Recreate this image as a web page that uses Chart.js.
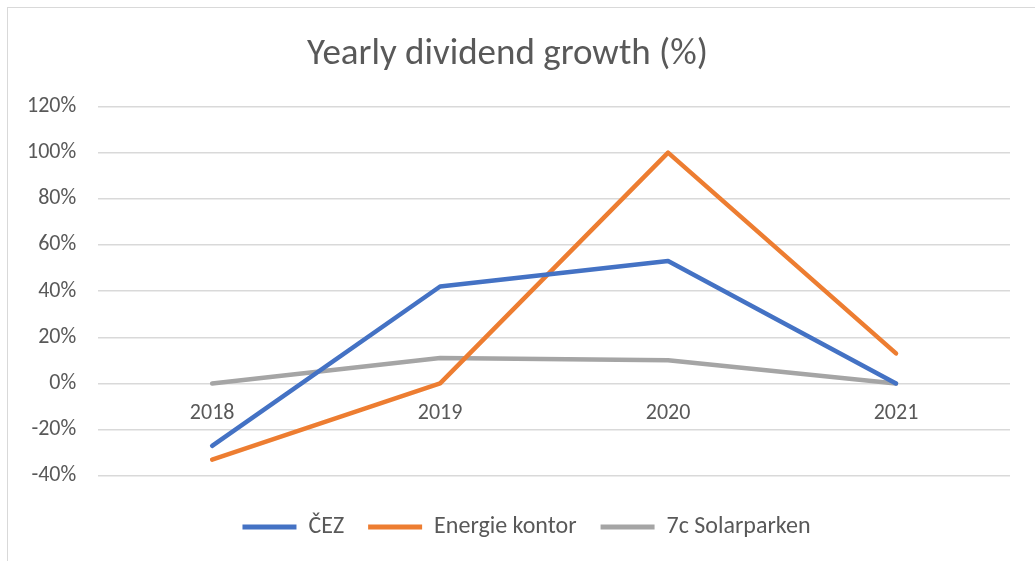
<!DOCTYPE html>
<html>
<head>
<meta charset="utf-8">
<script src="https://cdn.jsdelivr.net/npm/chart.js@4.4.1/dist/chart.umd.min.js"></script>
<style>
  html, body { margin: 0; padding: 0; background: #fff; }
  #wrap { position: relative; width: 1035px; height: 561px; overflow: hidden; }
  #frame { position: absolute; left: 7px; top: 7px; width: 1100px; height: 700px; border: 1px solid #d9d9d9; box-sizing: border-box; }
  #c { position: absolute; left: 0; top: 0; }
</style>
</head>
<body>
<div id="wrap">
  <div id="frame"></div>
  <canvas id="c" width="1035" height="561"></canvas>
</div>
<script>
const categories = ['2018', '2019', '2020', '2021'];
const cezValues = [-27, 42, 53, 0];
const energieKontorValues = [-33, 0, 100, 13];
const solarparkenValues = [0, 11, 10, 0];
const seriesNames = ['ČEZ', 'Energie kontor', '7c Solarparken'];
const yTickValues = [-40, -20, 0, 20, 40, 60, 80, 100, 120];

const FONT = "Carlito, Lato, 'Open Sans', sans-serif";
const TEXT = '#595959';
const GRID = '#d9d9d9';

function ds(label, data, color) {
  return {
    label, data,
    borderColor: color,
    backgroundColor: color,
    borderWidth: 4.5,
    borderCapStyle: 'round',
    borderJoinStyle: 'round',
    pointRadius: 0,
    pointHoverRadius: 0,
    tension: 0,
    fill: false
  };
}

const shiftLegend = {
  id: 'shiftLegend',
  afterLayout(chart) {
    const lg = chart.legend;
    if (lg) { lg.left += 19; lg.right += 19; }
  }
};

new Chart(document.getElementById('c'), {
  type: 'line',
  data: {
    labels: categories,
    datasets: [
      ds(seriesNames[0], cezValues, '#4472C4'),
      ds(seriesNames[1], energieKontorValues, '#ED7D31'),
      ds(seriesNames[2], solarparkenValues, '#A5A5A5')
    ]
  },
  plugins: [shiftLegend],
  options: {
    responsive: false,
    animation: false,
    events: [],
    layout: { padding: { left: 5, right: 25, top: 0, bottom: 12 } },
    plugins: {
      title: {
        display: true,
        text: 'Yearly dividend growth (%)',
        color: TEXT,
        font: { family: FONT, size: 37, weight: '300' },
        padding: { top: 33, bottom: 29 }
      },
      legend: {
        position: 'bottom',
        title: { display: true, text: ' ', font: { size: 1 }, padding: { top: 7, bottom: 7 } },
        labels: {
          color: TEXT,
          font: { family: FONT, size: 24 },
          boxWidth: 54,
          boxHeight: 5,
          padding: 24,
          generateLabels(chart) {
            return chart.data.datasets.map((d, i) => ({
              text: d.label,
              fillStyle: d.borderColor,
              strokeStyle: d.borderColor,
              lineWidth: 0,
              fontColor: TEXT,
              datasetIndex: i,
              hidden: false
            }));
          }
        }
      },
      tooltip: { enabled: false }
    },
    scales: {
      x: {
        type: 'category',
        offset: true,
        position: { y: 0 },
        grid: { display: false, drawTicks: false },
        border: { display: false },
        ticks: { color: TEXT, font: { family: FONT, size: 22 }, padding: 17, maxRotation: 0 }
      },
      y: {
        min: -40,
        max: 120,
        afterBuildTicks(scale) { scale.ticks = yTickValues.map(v => ({ value: v })); },
        grid: { color: GRID, lineWidth: 1.5, drawTicks: false },
        border: { display: false },
        ticks: {
          color: TEXT,
          font: { family: FONT, size: 22 },
          padding: 22,
          callback: v => v + '%'
        }
      }
    }
  }
});
</script>
</body>
</html>
